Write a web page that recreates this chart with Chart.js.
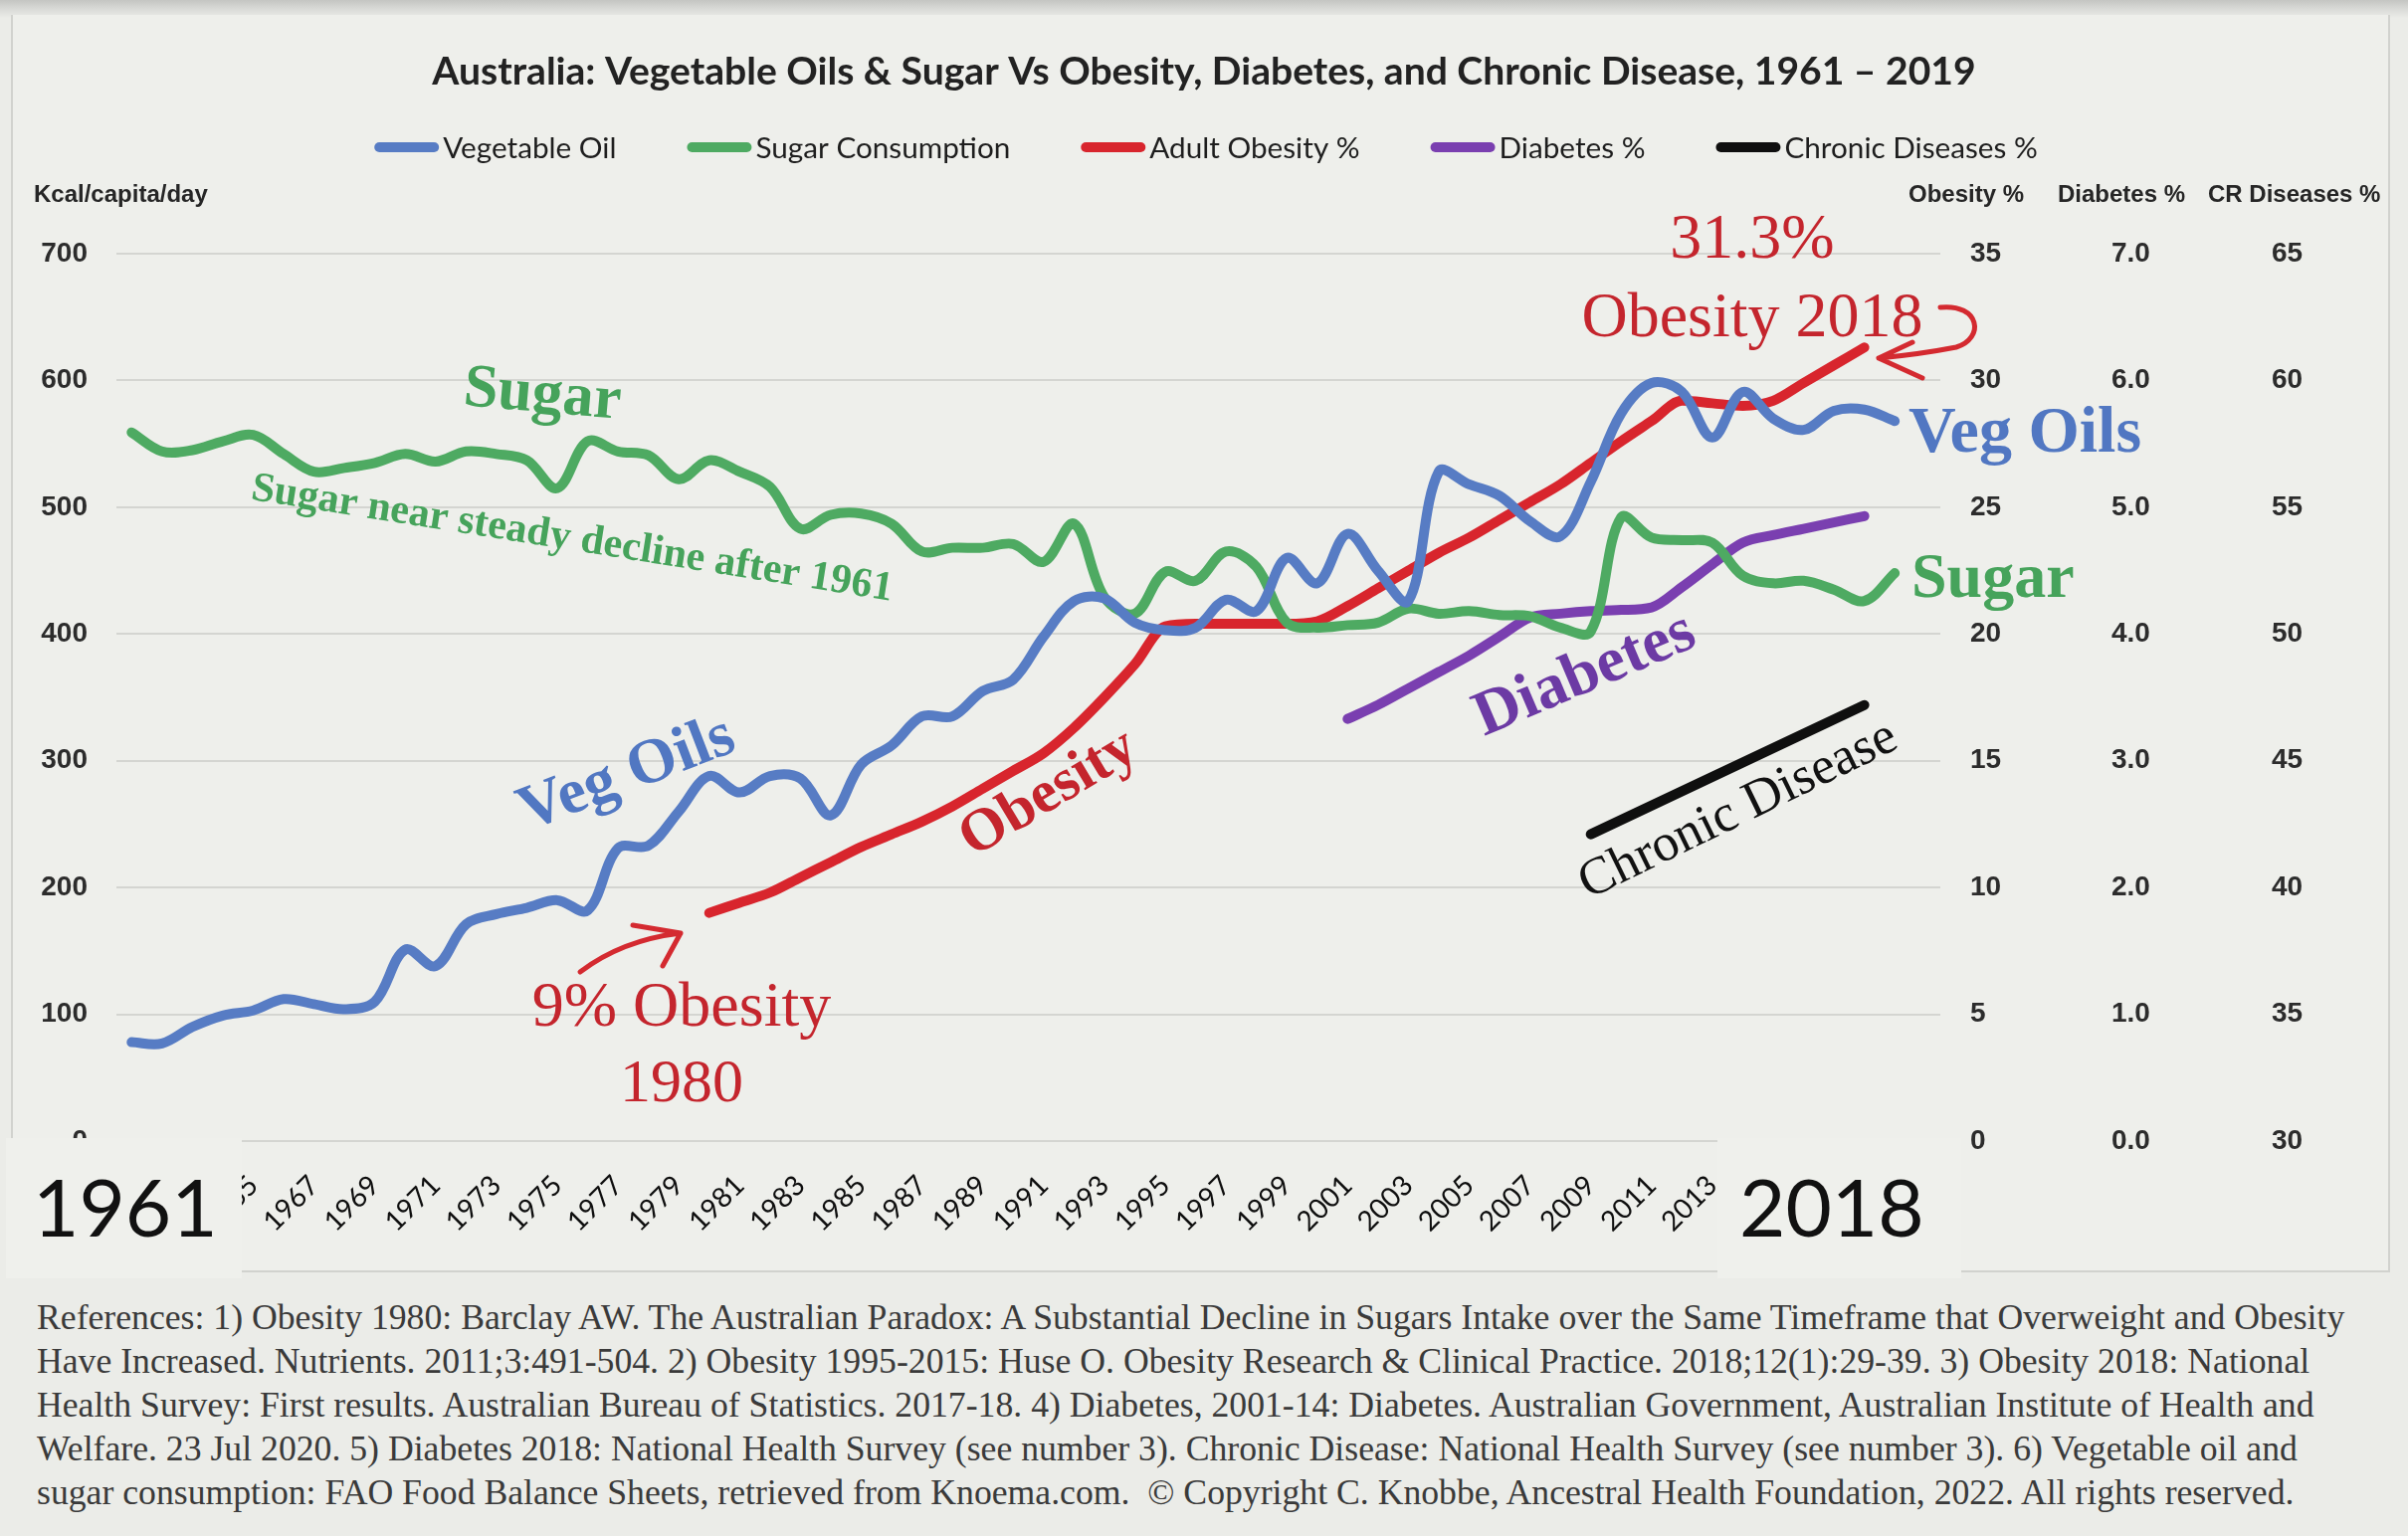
<!DOCTYPE html>
<html>
<head>
<meta charset="utf-8">
<title>Australia: Vegetable Oils &amp; Sugar Vs Obesity, Diabetes, and Chronic Disease</title>
<script src="https://cdn.jsdelivr.net/npm/chart.js@4.4.0/dist/chart.umd.min.js"></script>
<style>
  html, body { margin: 0; padding: 0; }
  body {
    width: 2420px; height: 1544px; overflow: hidden; position: relative;
    background: linear-gradient(#c4c5c2 0px, #d9dad7 9px, #ebece8 18px, #ebece8 100%);
  }
  #chartBox { position: absolute; left: 0; top: 0; width: 2420px; height: 1285px; }
  #refs {
    position: absolute; left: 37px; top: 1302px;
    font-family: "Liberation Serif", "DejaVu Serif", serif;
    color: #3a3a3a; line-height: 44px;
  }
  #refs div { white-space: pre; height: 44px; }
</style>
</head>
<body>
<div id="chartBox"><canvas id="chart" width="2420" height="1285"></canvas></div>
<div id="refs"><div id="refLine1">References: 1) Obesity 1980: Barclay AW. The Australian Paradox: A Substantial Decline in Sugars Intake over the Same Timeframe that Overweight and Obesity</div><div>Have Increased. Nutrients. 2011;3:491-504. 2) Obesity 1995-2015: Huse O. Obesity Research &amp; Clinical Practice. 2018;12(1):29-39. 3) Obesity 2018: National</div><div>Health Survey: First results. Australian Bureau of Statistics. 2017-18. 4) Diabetes, 2001-14: Diabetes. Australian Government, Australian Institute of Health and</div><div>Welfare. 23 Jul 2020. 5) Diabetes 2018: National Health Survey (see number 3). Chronic Disease: National Health Survey (see number 3). 6) Vegetable oil and</div><div>sugar consumption: FAO Food Balance Sheets, retrieved from Knoema.com.  © Copyright C. Knobbe, Ancestral Health Foundation, 2022. All rights reserved.</div></div>
<script>
// categories (1961-2020, last one left empty like the original axis)
const years = [
    1961, 1962, 1963, 1964, 1965, 1966, 1967, 1968, 1969, 1970,
    1971, 1972, 1973, 1974, 1975, 1976, 1977, 1978, 1979, 1980,
    1981, 1982, 1983, 1984, 1985, 1986, 1987, 1988, 1989, 1990,
    1991, 1992, 1993, 1994, 1995, 1996, 1997, 1998, 1999, 2000,
    2001, 2002, 2003, 2004, 2005, 2006, 2007, 2008, 2009, 2010,
    2011, 2012, 2013, 2014, 2015, 2016, 2017, 2018, 2019, 2020
];

// Kcal/capita/day, 1961-2019
const vegOil = [
    78, 77, 90, 99, 103, 112, 108, 104, 110, 151,
    138, 171, 179, 184, 190, 182, 231, 233, 260, 288,
    275, 288, 286, 257, 297, 312, 335, 335, 355, 364,
    398, 426, 428, 409, 403, 405, 427, 418, 460, 440,
    479, 450, 426, 528, 518, 509, 489, 477, 520, 574,
    598, 591, 555, 591, 570, 561, 576, 577, 568
];
const sugar = [
    559, 544, 545, 552, 557, 542, 528, 531, 535, 542,
    536, 544, 542, 537, 515, 552, 544, 541, 522, 537,
    528, 516, 483, 494, 495, 487, 465, 468, 468, 471,
    457, 487, 429, 416, 449, 442, 465, 453, 409, 405,
    407, 409, 420, 416, 418, 415, 414, 405, 402, 492,
    476, 474, 472, 446, 440, 442, 435, 426, 448
];

// Adult obesity %, 1980-2018
const obesityFrom = 1980;
const obesity = [
    9.0, 9.4, 9.8, 10.4, 11.0, 11.6, 12.1, 12.6, 13.2, 13.9,
    14.6, 15.3, 16.3, 17.5, 18.8, 20.3, 20.4, 20.4, 20.4, 20.4,
    20.5, 21.1, 21.8, 22.5, 23.2, 23.8, 24.5, 25.2, 25.9, 26.75,
    27.6, 28.4, 29.2, 29.1, 29.0, 29.2, 29.9, 30.6, 31.3
];

// Diabetes %, 2001-2018
const diabetesFrom = 2001;
const diabetes = [
    3.33, 3.44, 3.57, 3.70, 3.83, 3.98, 4.13, 4.16, 4.18, 4.19,
    4.21, 4.37, 4.55, 4.72, 4.78, 4.83, 4.88, 4.93
];

// Chronic diseases %
const chronicYears = [2009, 2018];
const chronicValues = [42.1, 47.2];

const COLORS = {
    veg: '#577cc4',
    sugar: '#4eaa62',
    obesity: '#d8252d',
    diabetes: '#7a3fb0',
    chronic: '#0f0f0f'
};

const SANS = 'Lato, "Liberation Sans", sans-serif';
const AXIS_SANS = '"Liberation Sans", Arial, sans-serif';
const SERIF = '"Liberation Serif", "DejaVu Serif", serif';

const measureCtx = document.createElement('canvas').getContext('2d');
function fitSize(text, font, target) {
    measureCtx.font = '100px ' + font;
    return 100 * target / measureCtx.measureText(text).width;
}

function alignSeries(from, values) {
    return years.map(y => {
        const i = y - from;
        return i >= 0 && i < values.length ? values[i] : null;
    });
}

function pointsAt(yrs, values) {
    return years.map(y => {
        const i = yrs.indexOf(y);
        return i >= 0 ? values[i] : null;
    });
}

function lineSet(label, data, color, axis, extra) {
    return Object.assign({
        label: label,
        data: data,
        yAxisID: axis,
        borderColor: color,
        backgroundColor: color,
        borderWidth: 10,
        pointRadius: 0,
        pointHoverRadius: 0,
        tension: 0.35,
        borderCapStyle: 'round',
        borderJoinStyle: 'round',
        spanGaps: true,
        fill: false
    }, extra || {});
}

const titleText = 'Australia: Vegetable Oils & Sugar Vs Obesity, Diabetes, and Chronic Disease, 1961 \u2013 2019';
const titleSize = fitSize(titleText, 'bold ' + SANS, 1574);
const legendSize = fitSize('Sugar Consumption', SANS, 256);

function drawText(ctx, text, x, y, font, color, angle, align) {
    ctx.save();
    ctx.translate(x, y);
    ctx.rotate((angle || 0) * Math.PI / 180);
    ctx.font = font;
    ctx.fillStyle = color;
    ctx.textAlign = align || 'center';
    ctx.textBaseline = 'middle';
    ctx.fillText(text, 0, 0);
    ctx.restore();
}

function strokePath(ctx, color, width, build) {
    ctx.save();
    ctx.strokeStyle = color;
    ctx.lineWidth = width;
    ctx.lineCap = 'round';
    ctx.lineJoin = 'round';
    ctx.beginPath();
    build(ctx);
    ctx.stroke();
    ctx.restore();
}

const overlayPlugin = {
    id: 'overlay',
    beforeDraw(chart) {
        const ctx = chart.ctx;
        ctx.save();
        ctx.fillStyle = '#eeefeb';
        ctx.fillRect(12, 15, 2389, 1263);
        ctx.strokeStyle = '#d1d2ce';
        ctx.lineWidth = 2;
        ctx.beginPath();
        ctx.moveTo(12, 15); ctx.lineTo(12, 1278); ctx.lineTo(2401, 1278); ctx.lineTo(2401, 15);
        ctx.stroke();
        ctx.restore();
    },
    afterDatasetsDraw(chart) {
        const ctx = chart.ctx;
        const red = '#c4252d';
        const green = '#46a35b';
        const blue = '#5177c2';

        drawText(ctx, 'Sugar', 545, 398, 'bold 62px ' + SERIF, green, 5);
        drawText(ctx, 'Sugar near steady decline after 1961', 575, 542, 'bold 42px ' + SERIF, green, 9);
        drawText(ctx, 'Veg Oils', 630, 779, 'bold 64px ' + SERIF, blue, -21);
        drawText(ctx, '9% Obesity', 685, 1014, '64px ' + SERIF, red, 0);
        drawText(ctx, '1980', 685, 1091, '62px ' + SERIF, red, 0);
        drawText(ctx, 'Obesity', 1054, 798, 'bold 60px ' + SERIF, red, -31);
        drawText(ctx, '31.3%', 1761, 242, '64px ' + SERIF, red, 0);
        drawText(ctx, 'Obesity 2018', 1761, 321, '64px ' + SERIF, red, 0);
        drawText(ctx, 'Veg Oils', 1918, 437, 'bold 66px ' + SERIF, blue, 0, 'left');
        drawText(ctx, 'Sugar', 1921, 583, 'bold 64px ' + SERIF, green, 0, 'left');
        drawText(ctx, 'Diabetes', 1593, 679, 'bold 64px ' + SERIF, '#6c3aa4', -23);
        drawText(ctx, 'Chronic Disease', 1747, 815, '53px ' + SERIF, '#111', -26);

        // hand drawn arrows
        strokePath(ctx, '#d42a30', 5, c => {
            c.moveTo(583, 977);
            c.quadraticCurveTo(625, 945, 684, 938);
            c.moveTo(636, 930);
            c.lineTo(684, 938);
            c.lineTo(666, 971);
        });
        strokePath(ctx, '#d42a30', 5, c => {
            c.moveTo(1950, 309);
            c.bezierCurveTo(1990, 305, 1995, 340, 1966, 349);
            c.quadraticCurveTo(1930, 356, 1888, 360);
            c.moveTo(1922, 344);
            c.lineTo(1888, 360);
            c.lineTo(1932, 380);
        });
    },
    afterDraw(chart) {
        const ctx = chart.ctx;

        // legend, drawn from the datasets
        ctx.save();
        ctx.font = legendSize + 'px ' + SANS;
        const items = chart.data.datasets.map(ds => ({
            label: ds.label, color: ds.borderColor, w: 65 + 4 + ctx.measureText(ds.label).width
        }));
        const gap = 71;
        const total = items.reduce((s, it) => s + it.w, 0) + gap * (items.length - 1);
        let x = 1212 - total / 2;
        const ly = 148;
        items.forEach(it => {
            strokePath(ctx, it.color, 10, c => { c.moveTo(x + 5, ly); c.lineTo(x + 60, ly); });
            ctx.fillStyle = '#1e1e1e';
            ctx.textAlign = 'left';
            ctx.textBaseline = 'middle';
            ctx.fillText(it.label, x + 69, ly + 1);
            x += it.w + gap;
        });
        ctx.restore();

        // axis headings
        const headFont = 'bold 24px ' + AXIS_SANS;
        drawText(ctx, 'Kcal/capita/day', 34, 196, headFont, '#262626', 0, 'left');
        drawText(ctx, 'Obesity %', 1918, 196, headFont, '#262626', 0, 'left');
        drawText(ctx, 'Diabetes %', 2068, 196, headFont, '#262626', 0, 'left');
        drawText(ctx, 'CR Diseases %', 2219, 196, headFont, '#262626', 0, 'left');

        // pasted year boxes over the axis ends
        ctx.save();
        ctx.fillStyle = '#eff0ec';
        ctx.fillRect(6, 1144, 237, 141);
        ctx.fillRect(1726, 1144, 245, 141);
        ctx.fillStyle = '#111';
        ctx.font = '80px ' + SANS;
        ctx.textAlign = 'left';
        ctx.textBaseline = 'alphabetic';
        ctx.fillText('1961', 33, 1243);
        ctx.fillText('2018', 1748, 1243);
        ctx.restore();
    }
};

const tickFont = { family: AXIS_SANS, size: 28, weight: 'bold' };
const tickColor = '#2c2c2c';

function rightAxis(min, max, step, weight, width, fmt) {
    return {
        position: 'right',
        min: min,
        max: max,
        weight: weight,
        grid: { display: false, drawTicks: false },
        border: { display: false },
        ticks: {
            stepSize: step,
            padding: 30,
            color: tickColor,
            font: tickFont,
            callback: fmt || (v => v)
        },
        afterFit(scale) { scale.width = width; }
    };
}

const chart = new Chart(document.getElementById('chart').getContext('2d'), {
    type: 'line',
    data: {
        labels: years,
        datasets: [
            lineSet('Vegetable Oil', vegOil, COLORS.veg, 'y'),
            lineSet('Sugar Consumption', sugar, COLORS.sugar, 'y'),
            lineSet('Adult Obesity %', alignSeries(obesityFrom, obesity), COLORS.obesity, 'yObesity', { cubicInterpolationMode: 'monotone' }),
            lineSet('Diabetes %', alignSeries(diabetesFrom, diabetes), COLORS.diabetes, 'yDiabetes', { cubicInterpolationMode: 'monotone' }),
            lineSet('Chronic Diseases %', pointsAt(chronicYears, chronicValues), COLORS.chronic, 'yChronic', { tension: 0 })
        ]
    },
    options: {
        responsive: false,
        animation: false,
        devicePixelRatio: 1,
        layout: { padding: 0 },
        plugins: {
            legend: { display: false },
            tooltip: { enabled: false },
            title: {
                display: true,
                text: titleText,
                color: '#222',
                font: { family: SANS, size: titleSize, weight: 'bold', lineHeight: 1.2 },
                padding: { top: 72 - titleSize * 0.6, bottom: 255 - (72 - titleSize * 0.6) - titleSize * 1.2 }
            }
        },
        scales: {
            x: {
                type: 'category',
                offset: true,
                grid: { display: false, drawTicks: false },
                border: { display: false },
                ticks: {
                    autoSkip: false,
                    minRotation: 45,
                    maxRotation: 45,
                    padding: 28,
                    color: '#0e0e0e',
                    font: { family: SANS, size: 28 },
                    callback(value, index) {
                        const yr = years[index];
                        return (yr % 2 === 1 && yr < 2020) ? String(yr) : '';
                    }
                },
                afterFit(scale) { scale.height = 138; }
            },
            y: {
                position: 'left',
                min: 0,
                max: 700,
                grid: { color: '#d4d5d1', lineWidth: 2, drawTicks: false },
                border: { display: false },
                ticks: { stepSize: 100, padding: 29, color: tickColor, font: tickFont },
                afterFit(scale) { scale.width = 117; }
            },
            yObesity: rightAxis(0, 35, 5, 0, 142),
            yDiabetes: rightAxis(0, 7, 1, 1, 161, v => v.toFixed(1)),
            yChronic: rightAxis(30, 65, 5, 2, 167)
        }
    },
    plugins: [overlayPlugin]
});

// fit reference lines to the width of the original block
const refSize = fitSize(document.getElementById('refLine1').textContent, SERIF, 2329);
document.getElementById('refs').style.fontSize = refSize + 'px';
</script>
</body>
</html>
